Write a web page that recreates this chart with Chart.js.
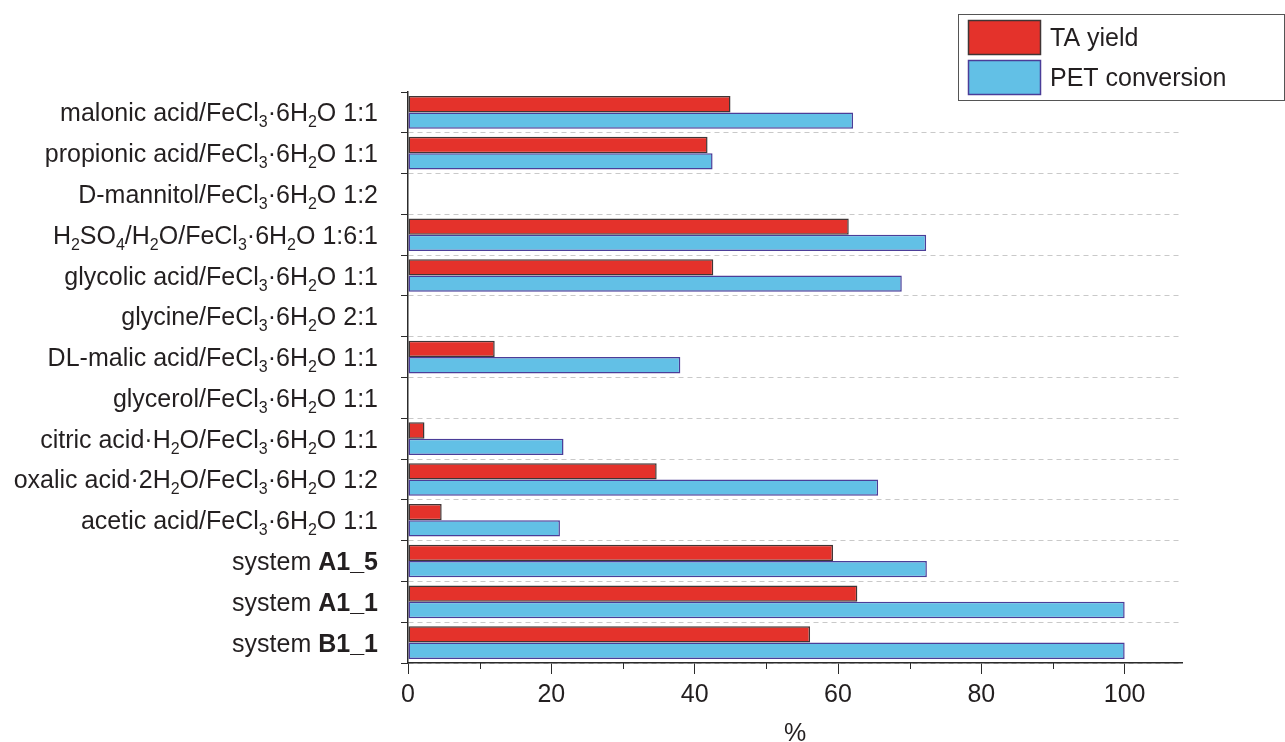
<!DOCTYPE html>
<html>
<head>
<meta charset="utf-8">
<script src="https://cdn.jsdelivr.net/npm/chart.js@4"></script>
<style>
  html, body { margin: 0; padding: 0; background: #fff; }
  #chart { display: block; }
</style>
</head>
<body>
<canvas id="chart" width="1285" height="742"></canvas>
<script>
// {x} = subscript, *x* = bold
const categories = [
    'malonic acid/FeCl{3}·6H{2}O 1:1',
    'propionic acid/FeCl{3}·6H{2}O 1:1',
    'D-mannitol/FeCl{3}·6H{2}O 1:2',
    'H{2}SO{4}/H{2}O/FeCl{3}·6H{2}O 1:6:1',
    'glycolic acid/FeCl{3}·6H{2}O 1:1',
    'glycine/FeCl{3}·6H{2}O 2:1',
    'DL-malic acid/FeCl{3}·6H{2}O 1:1',
    'glycerol/FeCl{3}·6H{2}O 1:1',
    'citric acid·H{2}O/FeCl{3}·6H{2}O 1:1',
    'oxalic acid·2H{2}O/FeCl{3}·6H{2}O 1:2',
    'acetic acid/FeCl{3}·6H{2}O 1:1',
    'system *A1_5*',
    'system *A1_1*',
    'system *B1_1*'
];

const taYield = [45.0, 41.8, null, 61.5, 42.6, null, 12.1, null, 2.3, 34.7, 4.7, 59.3, 62.7, 56.1];
const petConversion = [62.1, 42.5, null, 72.3, 68.9, null, 38.0, null, 21.7, 65.6, 21.2, 72.4, 100, 100];

const seriesNames = ['TA yield', 'PET conversion'];
const xTicks = [0, 20, 40, 60, 80, 100];

const labelFont = "'Liberation Sans', Arial, sans-serif";
const narrowFont = "'Liberation Sans Narrow', 'Liberation Sans', Arial, sans-serif";
const axisColor = '#2b2b2b';

const parseLabel = (label) => {
    const parts = [];
    const re = /\{(.*?)\}|\*(.*?)\*|([^{*]+)/g;
    let m;
    while ((m = re.exec(label)) !== null) {
        if (m[1] !== undefined) parts.push({ text: m[1], sub: true });
        else if (m[2] !== undefined) parts.push({ text: m[2], bold: true });
        else parts.push({ text: m[3] });
    }
    return parts;
};

const partFont = (p) => {
    if (p.sub) return `16px ${labelFont}`;
    if (p.bold) return `bold 25px ${labelFont}`;
    return `25px ${labelFont}`;
};

// category labels with subscripts / bold, drawn at the y scale's tick positions
const richLabels = {
    id: 'richLabels',
    afterDraw(chart) {
        const ctx = chart.ctx;
        const yScale = chart.scales.y;
        const right = yScale.right - 30;
        ctx.save();
        ctx.fillStyle = '#231f20';
        ctx.textBaseline = 'alphabetic';
        ctx.textAlign = 'left';
        categories.forEach((label, i) => {
            const parts = parseLabel(label);
            let total = 0;
            parts.forEach(p => {
                ctx.font = partFont(p);
                p.w = ctx.measureText(p.text).width;
                total += p.w;
            });
            const base = yScale.getPixelForValue(i) + 9;
            let x = right - total;
            parts.forEach(p => {
                ctx.font = partFont(p);
                ctx.fillText(p.text, x, p.sub ? base + 6 : base);
                x += p.w;
            });
        });
        ctx.restore();
    }
};

// short minor ticks on the x axis between the labelled ones
const minorTicks = {
    id: 'minorTicks',
    afterDraw(chart) {
        const ctx = chart.ctx;
        const xScale = chart.scales.x;
        ctx.save();
        ctx.strokeStyle = axisColor;
        ctx.lineWidth = 1;
        for (let v = 10; v <= 90; v += 20) {
            const px = Math.round(xScale.getPixelForValue(v)) + 0.5;
            ctx.beginPath();
            ctx.moveTo(px, xScale.top);
            ctx.lineTo(px, xScale.top + 6);
            ctx.stroke();
        }
        ctx.restore();
    }
};

// boxed legend in the top right corner
const boxLegend = {
    id: 'boxLegend',
    afterDraw(chart) {
        const ctx = chart.ctx;
        ctx.save();
        ctx.fillStyle = '#fff';
        ctx.fillRect(958, 14, 326, 86);
        ctx.strokeStyle = '#555';
        ctx.lineWidth = 1;
        ctx.strokeRect(958.5, 14.5, 326, 86);
        chart.data.datasets.forEach((ds, i) => {
            const top = 20 + i * 40;
            ctx.fillStyle = ds.backgroundColor;
            ctx.fillRect(968, top, 73, 35);
            ctx.strokeStyle = ds.borderColor;
            ctx.lineWidth = 1.5;
            ctx.strokeRect(968.5, top + 0.5, 72, 34);
            ctx.fillStyle = '#231f20';
            ctx.font = `25px ${labelFont}`;
            ctx.textBaseline = 'middle';
            ctx.fillText(ds.label, 1050, top + 19);
        });
        ctx.restore();
    }
};

const ctx = document.getElementById('chart').getContext('2d');

new Chart(ctx, {
    type: 'bar',
    data: {
        labels: categories,
        datasets: [
            {
                label: seriesNames[0],
                data: taYield,
                backgroundColor: '#e4322b',
                borderColor: '#403535',
                borderWidth: 1.5,
                borderSkipped: false,
                categoryPercentage: 0.8,
                barPercentage: 1.0
            },
            {
                label: seriesNames[1],
                data: petConversion,
                backgroundColor: '#62c0e6',
                borderColor: '#4b3d98',
                borderWidth: 1.5,
                borderSkipped: false,
                categoryPercentage: 0.8,
                barPercentage: 1.0
            }
        ]
    },
    options: {
        indexAxis: 'y',
        responsive: false,
        animation: false,
        layout: { padding: { top: 92, right: 103, bottom: 0, left: 0 } },
        plugins: {
            legend: { display: false },
            tooltip: { enabled: false }
        },
        scales: {
            x: {
                min: 0,
                max: 108,
                afterFit: (scale) => { scale.height = 79; },
                afterBuildTicks: (scale) => {
                    scale.ticks = xTicks.map(v => ({ value: v }));
                },
                ticks: {
                    color: '#231f20',
                    padding: 6,
                    maxRotation: 0,
                    font: { family: narrowFont, size: 25 }
                },
                grid: {
                    drawOnChartArea: false,
                    tickLength: 11,
                    tickColor: axisColor
                },
                border: { color: axisColor, width: 1.5 },
                title: {
                    display: true,
                    text: '%',
                    color: '#231f20',
                    padding: { top: 0, bottom: -7 },
                    font: { family: narrowFont, size: 25 }
                }
            },
            y: {
                afterFit: (scale) => { scale.width = 408; },
                ticks: { display: false },
                grid: {
                    color: (c) => (c.index === 0 ? 'rgba(0,0,0,0)' : '#c9c9c9'),
                    lineWidth: 1,
                    tickLength: 7,
                    tickColor: axisColor,
                    tickBorderDash: [],
                    offset: true
                },
                border: { color: axisColor, width: 1.5, dash: [5, 4] }
            }
        }
    },
    plugins: [richLabels, minorTicks, boxLegend]
});
</script>
</body>
</html>
